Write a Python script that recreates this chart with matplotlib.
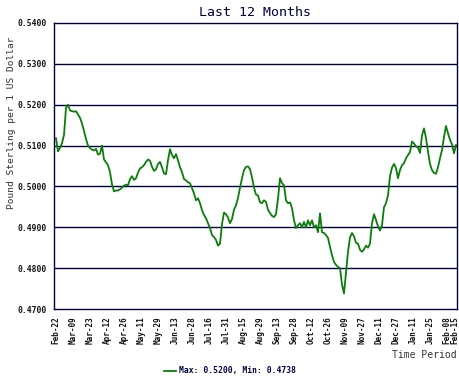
import numpy as np
import matplotlib
matplotlib.use('Agg')
import matplotlib.pyplot as plt

# pound sterling per 1 USD, one reading every ~2 trading days
rate = [
    0.5118, 0.5086, 0.5094, 0.5106, 0.5126, 0.5192, 0.5200, 0.5186, 0.5184, 0.5183,
    0.5184, 0.5176, 0.5168, 0.5154, 0.5136, 0.5116, 0.5100, 0.5094, 0.5090, 0.5088,
    0.5092, 0.5078, 0.5080, 0.5100, 0.5066, 0.5059, 0.5052, 0.5035, 0.5005, 0.4988,
    0.4990, 0.4990, 0.4993, 0.4997, 0.5002, 0.5004, 0.5003, 0.5018, 0.5025, 0.5016,
    0.5020, 0.5034, 0.5044, 0.5047, 0.5052, 0.5060, 0.5066, 0.5063, 0.5048, 0.5038,
    0.5042, 0.5055, 0.5060, 0.5047, 0.5032, 0.5030, 0.5064, 0.5091, 0.5077, 0.5069,
    0.5079, 0.5064, 0.5047, 0.5035, 0.5018, 0.5015, 0.5010, 0.5008, 0.4996, 0.4983,
    0.4966, 0.4971, 0.4959, 0.4942, 0.4930, 0.4922, 0.4910, 0.4898, 0.4881, 0.4876,
    0.4869, 0.4855, 0.4860, 0.4908, 0.4936, 0.4932, 0.4924, 0.4910, 0.4920, 0.4943,
    0.4954, 0.4972, 0.4997, 0.5020, 0.5040, 0.5048, 0.5049, 0.5042, 0.5022, 0.4997,
    0.4980, 0.4978, 0.4961, 0.4959, 0.4966, 0.4962, 0.4943, 0.4935, 0.4928, 0.4925,
    0.4932, 0.4970, 0.5020, 0.5008, 0.5003, 0.4966, 0.4959, 0.4961, 0.4947, 0.4917,
    0.4898, 0.4905, 0.4910, 0.4900, 0.4913, 0.4900, 0.4917, 0.4905, 0.4917, 0.4900,
    0.4905, 0.4888, 0.4934, 0.4888, 0.4886, 0.4881, 0.4874, 0.4852, 0.4832, 0.4815,
    0.4808, 0.4803, 0.4800, 0.4760, 0.4738, 0.4790, 0.4840, 0.4875, 0.4886, 0.4878,
    0.4862, 0.4860, 0.4845, 0.4840, 0.4846, 0.4855, 0.4850, 0.4860, 0.4910, 0.4932,
    0.4918, 0.4902, 0.4892, 0.4905, 0.4949, 0.4959, 0.4978, 0.5025, 0.5046, 0.5055,
    0.5045, 0.5020, 0.5040, 0.5052, 0.5057, 0.5069, 0.5077, 0.5084, 0.5110, 0.5105,
    0.5098, 0.5095, 0.5082, 0.5125, 0.5142, 0.5118, 0.5085, 0.5055, 0.5040, 0.5033,
    0.5031, 0.5047, 0.5069, 0.5089, 0.5121, 0.5148, 0.5130, 0.5114, 0.5103, 0.5081,
    0.5101,
]

tick_labels = ['Feb-22', 'Mar-09', 'Mar-23', 'Apr-12', 'Apr-26', 'May-11', 'May-29',
               'Jun-13', 'Jun-28', 'Jul-16', 'Jul-31', 'Aug-15', 'Aug-29', 'Sep-13',
               'Sep-28', 'Oct-12', 'Oct-26', 'Nov-09', 'Nov-27', 'Dec-11', 'Dec-27',
               'Jan-11', 'Jan-25', 'Feb-08', 'Feb-15']
tick_pos = [i * 8.5 for i in range(24)] + [199.3]

y_ticks = [0.47, 0.48, 0.49, 0.50, 0.51, 0.52, 0.53, 0.54]

navy = '#000040'
green = '#0b7d0b'
mono = 'DejaVu Sans Mono'

fig = plt.figure(figsize=(4.6, 3.8), dpi=100)
ax = fig.add_axes([54/460, 1-309/380, (457.5-54)/460, (309-23)/380])

x = np.arange(len(rate))
ax.plot(x, rate, color=green, linewidth=1.3, label='Max: 0.5200, Min: 0.4738')

ax.set_ylim(0.47, 0.54)
ax.set_xlim(-1, 200.75)
ax.set_yticks(y_ticks)
ax.set_yticklabels(['{:.4f}'.format(v) for v in y_ticks],
                   fontfamily=mono, fontsize=5.8, fontweight='bold', color='#111111')
ax.set_xticks(tick_pos)
ax.set_xticklabels(tick_labels, rotation=90, fontfamily=mono, fontsize=5.5,
                   fontweight='bold', color='#111111')
ax.tick_params(length=0, pad=5)

# horizontal grid only
for v in y_ticks[1:-1]:
    ax.axhline(v, color=navy, linewidth=1.0, zorder=0)
for s in ax.spines.values():
    s.set_color(navy)
    s.set_linewidth(1.0)

fig.text(255.5/460, 1-12/380, 'Last 12 Months', ha='center', va='center',
         fontfamily=mono, fontsize=9.5, color=navy)
fig.text(12/460, 1-123/380, 'Pound Sterling per 1 US Dollar', rotation=90,
         ha='center', va='center', fontfamily=mono, fontsize=6.8, color='#333333')
fig.text(457/460, 1-355/380, 'Time Period', ha='right', va='center',
         fontfamily=mono, fontsize=7, color='#333333')

fig.legend(loc='center', bbox_to_anchor=(0.5, 1-371/380), frameon=False,
           handlelength=1.5, handletextpad=0.3,
           prop={'family': mono, 'size': 5.8, 'weight': 'bold'}, labelcolor=navy)

plt.savefig('out.png', dpi=100)
